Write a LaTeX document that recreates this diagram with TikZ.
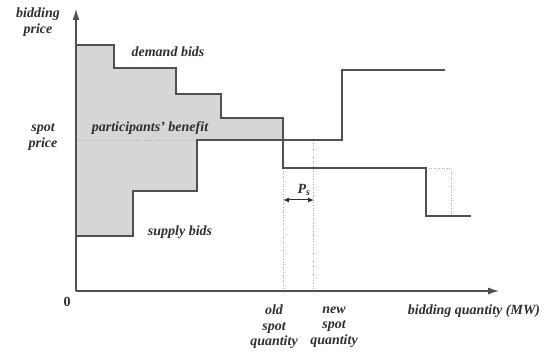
\documentclass[tikz,border=0pt]{standalone}
\usepackage{fontspec}
\setmainfont{Liberation Serif}
\usetikzlibrary{arrows.meta}
\definecolor{ink}{HTML}{505050}
\definecolor{txt}{HTML}{2E2E2E}
\definecolor{benefitgray}{HTML}{D6D6D6}
\tikzset{
  curve/.style={draw=ink, line width=1.1pt, line join=miter},
  axis/.style={draw=ink, line width=1.1pt, -{Latex[length=11pt,width=7pt]}},
  guide/.style={draw=gray!60, line width=0.6pt, dotted},
  lbl/.style={text=txt, font=\fontsize{14}{15.5}\selectfont\bfseries\itshape, inner sep=0pt, align=center},
}
\begin{document}
\begin{tikzpicture}[x=1pt,y=-1pt]
\useasboundingbox (0,0) rectangle (548,352);
% shaded benefit area
\fill[fill=benefitgray] (76,45) -- (114,45) -- (114,68) -- (176,68) -- (176,94) -- (221,94) -- (221,118) -- (283,118) -- (283,140) -- (197,140) -- (197,191) -- (133,191) -- (133,236) -- (76,236) -- cycle;
% guides
\draw[guide] (76,140) -- (197,140);
\draw[guide] (283,168) -- (283,291);
\draw[guide] (313,140) -- (313,291);
\draw[guide] (426,168) -- (451,168) -- (451,216);
% demand curve
\draw[curve] (76,45) -- (114,45) -- (114,68) -- (176,68) -- (176,94) -- (221,94) -- (221,118) -- (283,118) -- (283,168) -- (426,168) -- (426,216) -- (471,216);
% supply curve
\draw[curve] (76,236) -- (133,236) -- (133,191) -- (197,191) -- (197,140) -- (342,140) -- (342,70) -- (445,70);
% axes
\coordinate (o) at (76,291);
\coordinate (ytip) at (76,9);
\coordinate (xtip) at (499,291);
\draw[axis] (o) -- (ytip);
\draw[axis] (o) -- (xtip);
% P_s arrow
\coordinate (pa) at (283,200);
\coordinate (pb) at (314,200);
\draw[draw=txt, line width=1pt, {Latex[length=6pt,width=5pt]}-{Latex[length=6pt,width=5pt]}] (pa) -- (pb);
% labels
\node[lbl] (ylab) at (38,22) {bidding\\price};
\node[lbl] (spl) at (43,137) {spot\\price};
\node[lbl] (dem) at (168,52) {demand bids};
\node[lbl] (ben) at (150,128) {participants' benefit};
\node[lbl] (sup) at (180,232) {supply bids};
\node[lbl, font=\fontsize{14}{15.5}\selectfont\bfseries] (zero) at (67,302) {0};
\node[lbl] (ps) at (304,190) {P\textsubscript{s}};
\node[lbl] (old) at (274,327) {old\\spot\\quantity};
\node[lbl] (new) at (334,327) {new\\spot\\quantity};
\node[lbl] (xlab) at (474,311) {bidding quantity (MW)};
\end{tikzpicture}
\end{document}
